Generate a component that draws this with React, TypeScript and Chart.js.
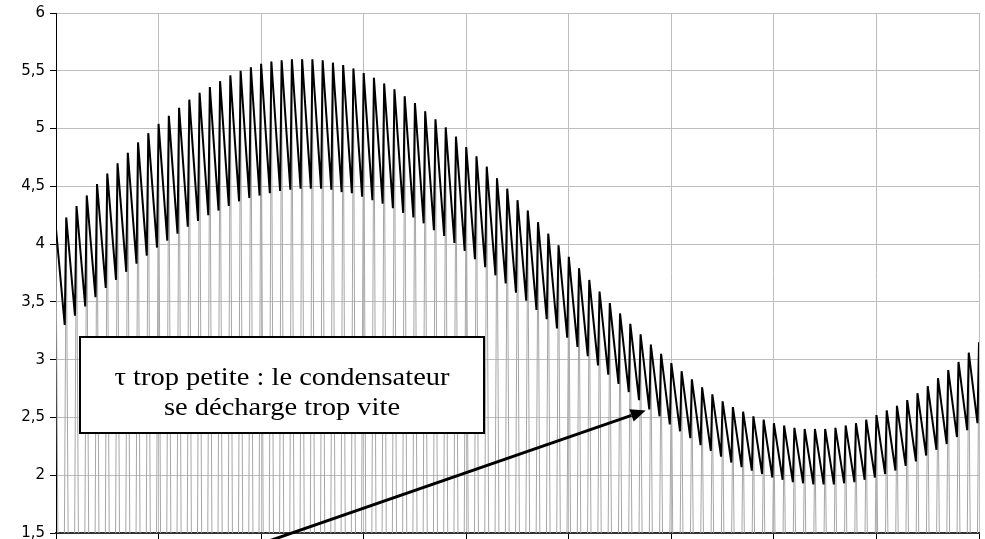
import React, { useEffect, useRef } from "react";
import { Chart, registerables } from "chart.js";

Chart.register(...registerables);

// ---- data ----
const Y_TICK_LABELS = ["1,5", "2", "2,5", "3", "3,5", "4", "4,5", "5", "5,5", "6"];
const Y_TICK_VALUES = [1.5, 2, 2.5, 3, 3.5, 4, 4.5, 5, 5.5, 6];

// time span of one carrier cycle (x grid step = 1 -> 10 cycles per division)
const CARRIER_PERIOD = 0.1;
// time from the bottom of a discharge to the next peak
const RISE = 0.015;

// capacitor voltage at each peak (cycle 0 .. 90)
const PEAKS = [
  4.13, 4.23, 4.33, 4.42, 4.52, 4.61, 4.7, 4.79, 4.88, 4.96,
  5.04, 5.11, 5.18, 5.25, 5.31, 5.36, 5.41, 5.46, 5.5, 5.53,
  5.56, 5.58, 5.59, 5.6, 5.6, 5.6, 5.59, 5.57, 5.55, 5.52,
  5.48, 5.44, 5.39, 5.34, 5.28, 5.22, 5.15, 5.08, 5.01, 4.93,
  4.84, 4.76, 4.67, 4.57, 4.48, 4.38, 4.29, 4.19, 4.09, 3.99,
  3.89, 3.79, 3.69, 3.59, 3.49, 3.4, 3.31, 3.22, 3.13, 3.05,
  2.97, 2.9, 2.83, 2.76, 2.7, 2.64, 2.59, 2.55, 2.51, 2.48,
  2.45, 2.43, 2.41, 2.4, 2.4, 2.4, 2.41, 2.43, 2.45, 2.48,
  2.52, 2.56, 2.6, 2.65, 2.71, 2.77, 2.84, 2.91, 2.98, 3.06,
  3.15,
];

// capacitor voltage at the end of each discharge (before peak 1 .. 90)
const TROUGHS = [
  3.3, 3.38, 3.46, 3.54, 3.62, 3.69, 3.76, 3.83, 3.9, 3.97,
  4.03, 4.09, 4.15, 4.2, 4.25, 4.29, 4.33, 4.37, 4.4, 4.42,
  4.44, 4.46, 4.47, 4.48, 4.48, 4.48, 4.47, 4.45, 4.44, 4.41,
  4.38, 4.35, 4.31, 4.27, 4.23, 4.18, 4.12, 4.07, 4.01, 3.94,
  3.87, 3.8, 3.73, 3.66, 3.58, 3.51, 3.43, 3.35, 3.27, 3.19,
  3.11, 3.03, 2.95, 2.87, 2.79, 2.72, 2.65, 2.57, 2.51, 2.44,
  2.38, 2.32, 2.26, 2.21, 2.16, 2.11, 2.07, 2.04, 2.01, 1.98,
  1.96, 1.94, 1.93, 1.92, 1.92, 1.92, 1.93, 1.94, 1.96, 1.98,
  2.01, 2.04, 2.08, 2.12, 2.17, 2.22, 2.27, 2.33, 2.39, 2.45,
];

// carrier signal: half-width of each arch and its low value (below the axis)
const CARRIER_HALF_WIDTH = 0.028;
const CARRIER_LOW = 0;

// annotation arrow, in data coordinates
const ARROW_FROM = { x: 2.04, y: 1.42 };
const ARROW_TO = { x: 5.75, y: 2.56 };

const ANNOTATION_LINES = ["τ trop petite : le condensateur", "se décharge trop vite"];

export default function App() {
  const canvasRef = useRef<HTMLCanvasElement | null>(null);

  useEffect(() => {
    document.body.style.margin = "0";
    const canvas = canvasRef.current;
    if (!canvas) return;

    const blackPts: { x: number; y: number }[] = [{ x: 0, y: PEAKS[0] }];
    for (let k = 1; k < PEAKS.length; k++) {
      blackPts.push({ x: k * CARRIER_PERIOD - RISE, y: TROUGHS[k - 1] });
      blackPts.push({ x: k * CARRIER_PERIOD, y: PEAKS[k] });
    }
    const greyPts: { x: number; y: number }[] = [];
    for (let k = 0; k < PEAKS.length; k++) {
      const t = k * CARRIER_PERIOD;
      greyPts.push({ x: t - CARRIER_HALF_WIDTH, y: CARRIER_LOW });
      greyPts.push({ x: t, y: PEAKS[k] });
      greyPts.push({ x: t + CARRIER_HALF_WIDTH, y: CARRIER_LOW });
    }

    const arrowPlugin = {
      id: "arrowPlugin",
      afterDraw(chart: any) {
        const { ctx, scales } = chart;
        const x1 = scales.x.getPixelForValue(ARROW_FROM.x);
        const y1 = scales.y.getPixelForValue(ARROW_FROM.y);
        const x2 = scales.x.getPixelForValue(ARROW_TO.x);
        const y2 = scales.y.getPixelForValue(ARROW_TO.y);
        const ang = Math.atan2(y2 - y1, x2 - x1);
        const headLen = 15;
        const headW = 6.5;
        const bx = x2 - headLen * Math.cos(ang);
        const by = y2 - headLen * Math.sin(ang);
        ctx.save();
        ctx.strokeStyle = "#000";
        ctx.fillStyle = "#000";
        ctx.lineWidth = 3;
        ctx.beginPath();
        ctx.moveTo(x1, y1);
        ctx.lineTo(bx, by);
        ctx.stroke();
        ctx.beginPath();
        ctx.moveTo(x2, y2);
        ctx.lineTo(bx + headW * Math.sin(ang), by - headW * Math.cos(ang));
        ctx.lineTo(bx - headW * Math.sin(ang), by + headW * Math.cos(ang));
        ctx.closePath();
        ctx.fill();
        ctx.restore();
      },
    };

    const chart = new Chart(canvas, {
      type: "line",
      data: {
        datasets: [
          {
            data: blackPts,
            borderColor: "#000",
            borderWidth: 2,
            pointRadius: 0,
            tension: 0,
            order: 0,
          },
          {
            data: greyPts,
            borderColor: "#a6a6a6",
            borderWidth: 1,
            pointRadius: 0,
            tension: 0,
            order: 1,
          },
        ],
      },
      options: {
        animation: false,
        responsive: false,
        maintainAspectRatio: false,
        events: [],
        layout: { padding: { top: 13, right: 6, left: 0, bottom: 0 } },
        plugins: {
          legend: { display: false },
          tooltip: { enabled: false },
        },
        scales: {
          x: {
            type: "linear",
            min: 0,
            max: 9,
            ticks: { display: false, stepSize: 1 },
            grid: { color: "#bdbdbd", tickColor: "#000", tickLength: 6, drawTicks: true },
            border: { color: "#333", width: 2 },
            afterFit: (scale: any) => {
              scale.height = 6;
              scale.paddingLeft = 0;
              scale.paddingRight = 0;
            },
          },
          y: {
            type: "linear",
            min: 1.5,
            max: 6,
            afterBuildTicks: (scale: any) => {
              scale.ticks = Y_TICK_VALUES.map((v) => ({ value: v }));
            },
            ticks: {
              padding: 5,
              color: "#000",
              font: { family: "'DejaVu Sans', 'Liberation Sans', Arial, sans-serif", size: 15 },
              callback: (_v: any, i: number) => Y_TICK_LABELS[i],
            },
            grid: { color: "#bdbdbd", tickColor: "#000", tickLength: 6, drawTicks: true },
            border: { color: "#000", width: 1 },
            afterFit: (scale: any) => {
              scale.width = 56;
              scale.paddingTop = 0;
              scale.paddingBottom = 0;
            },
          },
        },
      },
      plugins: [arrowPlugin],
    } as any);

    return () => chart.destroy();
  }, []);

  return (
    <div style={{ position: "relative", width: 985, height: 539, overflow: "hidden" }}>
      <canvas ref={canvasRef} width={985} height={539} style={{ display: "block" }} />
      <div
        style={{
          position: "absolute",
          left: 79,
          top: 336,
          width: 406,
          height: 98,
          boxSizing: "border-box",
          border: "2px solid #000",
          background: "#fff",
          fontFamily: "'Liberation Serif', 'Times New Roman', serif",
          fontSize: 25,
          lineHeight: "30px",
          textAlign: "center",
          color: "#000",
          paddingTop: 24,
        }}
      >
        {ANNOTATION_LINES.map((l, i) => (
          <div key={i} style={{ whiteSpace: "nowrap", transform: "scaleX(1.14)", transformOrigin: "center" }}>
            {l}
          </div>
        ))}
      </div>
    </div>
  );
}
